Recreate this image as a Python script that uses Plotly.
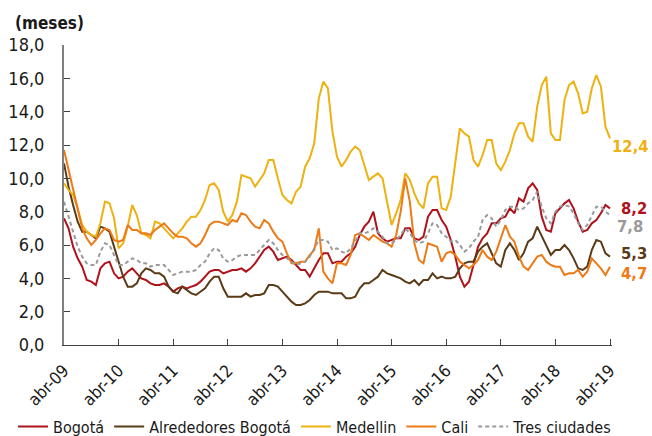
import plotly.graph_objects as go

# Monthly periods, abr-09 .. abr-19, labelled with Spanish month abbreviations
MESES_ES = ["ene", "feb", "mar", "abr", "may", "jun", "jul", "ago", "sep", "oct", "nov", "dic"]
periodos = []
for i in range(121):
    k = 3 + i
    periodos.append(f"{MESES_ES[k % 12]}-{(2009 + k // 12) % 100:02d}")

# Meses de rotación (months) by city
bogota = [
    7.6, 7.0, 5.9, 5.2, 4.7, 3.9, 3.8, 3.6, 4.6, 4.9, 5.0, 4.3,
    4.0, 4.1, 4.4, 4.6, 4.3, 4.0, 3.9, 3.7, 3.6, 3.6, 3.7, 3.5,
    3.2, 3.4, 3.5, 3.4, 3.5, 3.6, 3.8, 4.1, 4.4, 4.5, 4.5, 4.3,
    4.4, 4.5, 4.5, 4.6, 4.4, 4.6, 4.9, 5.3, 5.7, 5.9, 5.6, 5.1,
    5.2, 5.3, 5.1, 4.8, 4.5, 4.5, 4.1, 4.6, 5.1, 5.5, 5.5, 4.9,
    5.0, 5.0, 5.3, 5.5, 5.9, 6.6, 7.1, 7.4, 8.0, 6.7, 6.4, 6.2,
    6.3, 6.4, 6.4, 7.0, 7.0, 6.4, 6.3, 6.5, 7.7, 8.1, 8.1, 7.5,
    7.1, 6.3, 5.3, 4.1, 3.5, 3.8, 4.8, 5.9, 6.4, 6.7, 7.3, 7.3,
    7.6, 7.7, 8.2, 7.9, 8.8, 8.6, 9.4, 9.7, 9.3, 7.7, 6.9, 6.8,
    7.9, 8.2, 8.5, 8.7, 8.2, 7.4, 6.8, 6.9, 7.3, 7.5, 7.9, 8.4,
    8.2,
]
alrededores = [
    10.9, 9.5, 8.4, 7.4, 6.8, 6.8, 6.6, 6.4, 7.1, 7.0, 6.8, 5.9,
    4.9, 4.1, 3.5, 3.5, 3.7, 4.3, 4.6, 4.5, 4.3, 4.3, 4.1, 3.5,
    3.2, 3.1, 3.5, 3.3, 3.1, 3.0, 3.2, 3.4, 3.8, 4.1, 4.1, 3.4,
    2.9, 2.9, 2.9, 2.9, 3.1, 2.9, 3.0, 3.0, 3.1, 3.6, 3.6, 3.5,
    3.2, 2.9, 2.6, 2.4, 2.4, 2.5, 2.7, 3.0, 3.2, 3.2, 3.2, 3.1,
    3.1, 3.1, 2.8, 2.8, 2.9, 3.4, 3.7, 3.7, 3.9, 4.1, 4.5, 4.3,
    4.2, 4.1, 4.0, 3.8, 3.7, 3.9, 3.6, 3.9, 3.9, 4.3, 4.0, 4.1,
    4.0, 4.0, 4.1, 4.6, 4.9, 5.0, 5.0, 5.6, 5.9, 6.1, 5.5, 4.9,
    4.7, 5.7, 6.1, 5.7, 5.1, 5.5, 6.2, 6.4, 7.1, 6.5, 6.0, 5.4,
    5.7, 5.7, 6.0, 5.7, 5.2, 4.6, 4.5, 4.7, 5.7, 6.3, 6.2, 5.5,
    5.3,
]
medellin = [
    9.7, 9.3, 9.0, 8.2, 7.2, 6.8, 6.6, 6.5, 7.3, 8.6, 8.5, 7.6,
    5.8, 6.1, 7.1, 8.4, 7.8, 6.7, 6.6, 6.4, 7.4, 7.3, 7.0, 6.7,
    6.4, 6.7, 7.0, 7.4, 7.7, 7.7, 8.1, 8.7, 9.6, 9.7, 9.3, 8.0,
    7.4, 7.8, 8.6, 10.2, 10.1, 10.0, 9.5, 9.9, 10.3, 11.1, 11.1, 10.0,
    9.0, 8.7, 8.5, 9.2, 9.5, 10.7, 11.2, 12.1, 14.8, 15.8, 15.4, 12.8,
    11.3, 10.7, 11.1, 11.6, 11.9, 11.7, 10.8, 9.9, 10.1, 10.3, 10.0, 8.5,
    7.2, 7.9, 8.7, 10.3, 9.9, 9.1, 8.5, 8.2, 9.7, 10.1, 10.1, 8.2,
    8.1, 8.9, 11.1, 13.0, 12.7, 12.5, 11.1, 10.7, 11.4, 12.3, 12.3, 10.9,
    10.5, 11.0, 11.7, 12.7, 13.3, 13.3, 12.5, 12.2, 14.3, 15.6, 16.1, 12.7,
    12.3, 12.3, 14.7, 15.6, 15.8, 15.1, 13.9, 14.0, 15.4, 16.2, 15.5, 13.1,
    12.4,
]
cali = [
    11.7, 10.5, 9.3, 8.1, 7.0, 6.4, 6.0, 6.3, 6.7, 7.0, 6.9, 6.3,
    6.2, 6.3, 7.2, 6.9, 6.9, 6.7, 6.7, 6.6, 6.9, 7.1, 7.3, 7.0,
    6.7, 6.5, 6.5, 6.4, 6.1, 5.9, 6.1, 6.6, 7.2, 7.4, 7.4, 7.3,
    7.2, 7.5, 7.4, 7.9, 7.8, 7.4, 7.1, 7.0, 7.5, 7.3, 6.8, 6.4,
    6.2, 5.5, 4.9, 4.9, 5.0, 5.0, 5.4, 5.7, 7.0, 4.4, 4.0, 3.7,
    4.9, 4.9, 4.8, 5.4, 6.6, 6.7, 6.5, 6.3, 6.6, 6.4, 6.2, 6.1,
    5.9, 6.6, 8.0, 10.0, 8.6, 6.1, 5.1, 4.9, 6.1, 6.0, 5.9, 5.0,
    5.5, 5.6, 5.4, 5.0, 4.8, 4.6, 4.8, 5.1, 5.7, 5.3, 5.1, 5.6,
    6.4, 7.2, 6.5, 6.2, 5.3, 4.7, 4.5, 4.9, 5.3, 5.4, 5.0, 4.8,
    4.7, 4.7, 4.2, 4.3, 4.3, 4.5, 4.1, 4.4, 5.2, 4.9, 4.6, 4.2,
    4.7,
]
tres_ciudades = [
    8.6, 7.7, 6.8, 5.9, 5.3, 4.9, 4.8, 4.8, 5.6, 6.1, 6.0, 5.4,
    4.8, 4.8, 5.0, 5.2, 5.1, 4.9, 4.9, 4.7, 4.8, 4.8, 4.8, 4.5,
    4.2, 4.3, 4.4, 4.4, 4.4, 4.5, 4.8, 5.0, 5.5, 5.8, 5.7, 5.2,
    5.0, 5.1, 5.3, 5.4, 5.4, 5.4, 5.4, 5.7, 6.0, 6.3, 6.1, 5.7,
    5.4, 5.2, 5.0, 4.8, 4.9, 5.0, 5.3, 5.8, 6.3, 6.3, 6.2, 5.7,
    5.8, 5.6, 5.5, 5.8, 6.2, 6.7, 6.7, 6.8, 7.0, 6.8, 6.5, 6.1,
    6.1, 6.3, 6.6, 7.0, 6.7, 6.3, 6.1, 6.2, 6.7, 7.3, 7.2, 6.7,
    6.5, 6.2, 6.3, 6.0, 5.6, 5.8, 6.2, 6.5, 7.5, 7.8, 7.6, 7.1,
    7.5, 8.1, 8.3, 8.3, 8.1, 8.2, 8.5, 8.7, 9.2, 8.3, 7.6, 7.3,
    8.0, 8.3, 8.4, 8.3, 7.9, 7.3, 6.9, 7.2, 7.8, 8.3, 8.3, 8.0,
    7.8,
]

FONT = "DejaVu Sans Condensed, DejaVu Sans, sans-serif"

series = [
    # name, values, line colour, dash, label colour, label xshift, label yshift
    ("Bogotá", bogota, "#B0121B", "solid", "#B0121B", 10, 0),
    ("Alrededores Bogotá", alrededores, "#5A3A17", "solid", "#5A3A17", 10, 3),
    ("Medellin", medellin, "#EDB111", "solid", "#EDB111", 1, -8),
    ("Cali", cali, "#EE7A16", "solid", "#EE7A16", 10, -7),
    ("Tres ciudades", tres_ciudades, "#9A9A9A", "4px,3px", "#9A9A9A", 6, -11),
]

fig = go.Figure()
for name, vals, color, dash, _, _, _ in series:
    fig.add_trace(go.Scatter(
        x=periodos, y=vals, mode="lines", name=name,
        line=dict(color=color, width=2, dash=dash),
    ))

# Last-value labels at the right end of each line
annotations = []
for name, vals, _, _, lcolor, xs, ys in series:
    annotations.append(dict(
        x=periodos[-1], y=vals[-1], xref="x", yref="y",
        text=f"<b>{vals[-1]:.1f}</b>".replace(".", ","),
        showarrow=False, xanchor="left", yanchor="middle",
        xshift=xs, yshift=ys, borderpad=0,
        font=dict(family=FONT, size=16.5, color=lcolor),
    ))

annotations.append(dict(
    x=-0.093, y=1.073, xref="paper", yref="paper",
    text="<b>(meses)</b>", showarrow=False,
    xanchor="left", yanchor="middle",
    font=dict(family=FONT, size=17, color="#1a1a1a"),
))

fig.update_layout(
    width=652, height=436,
    margin=dict(l=64, r=40, t=45, b=91, autoexpand=False),
    paper_bgcolor="white", plot_bgcolor="white",
    separators=",.",
    font=dict(family=FONT, size=17, color="#1a1a1a"),
    showlegend=True,
    legend=dict(
        orientation="h", x=-0.093, xanchor="left", y=-0.215, yanchor="top",
        font=dict(family=FONT, size=16, color="#1a1a1a"),
        itemwidth=30, tracegroupgap=0,
        bgcolor="rgba(0,0,0,0)",
    ),
    annotations=annotations,
)

fig.update_xaxes(
    type="category", range=[0, 120.44],
    tickmode="array", tickvals=periodos[::12], ticktext=periodos[::12],
    tickangle=-45, ticks="inside", ticklen=6, tickwidth=1, tickcolor="#404040",
    showline=True, linecolor="#404040", linewidth=1,
    showgrid=False, zeroline=False, ticklabelstandoff=8,
    tickfont=dict(family=FONT, size=17, color="#1a1a1a"),
)
fig.update_yaxes(
    range=[0, 18], dtick=2, tickformat=".1f",
    ticks="inside", ticklen=6, tickwidth=1, tickcolor="#404040",
    showline=True, linecolor="#808080", linewidth=2,
    showgrid=False, zeroline=False, ticklabelstandoff=14,
    tickfont=dict(family=FONT, size=18, color="#1a1a1a"),
)

fig.write_html("out.html")
